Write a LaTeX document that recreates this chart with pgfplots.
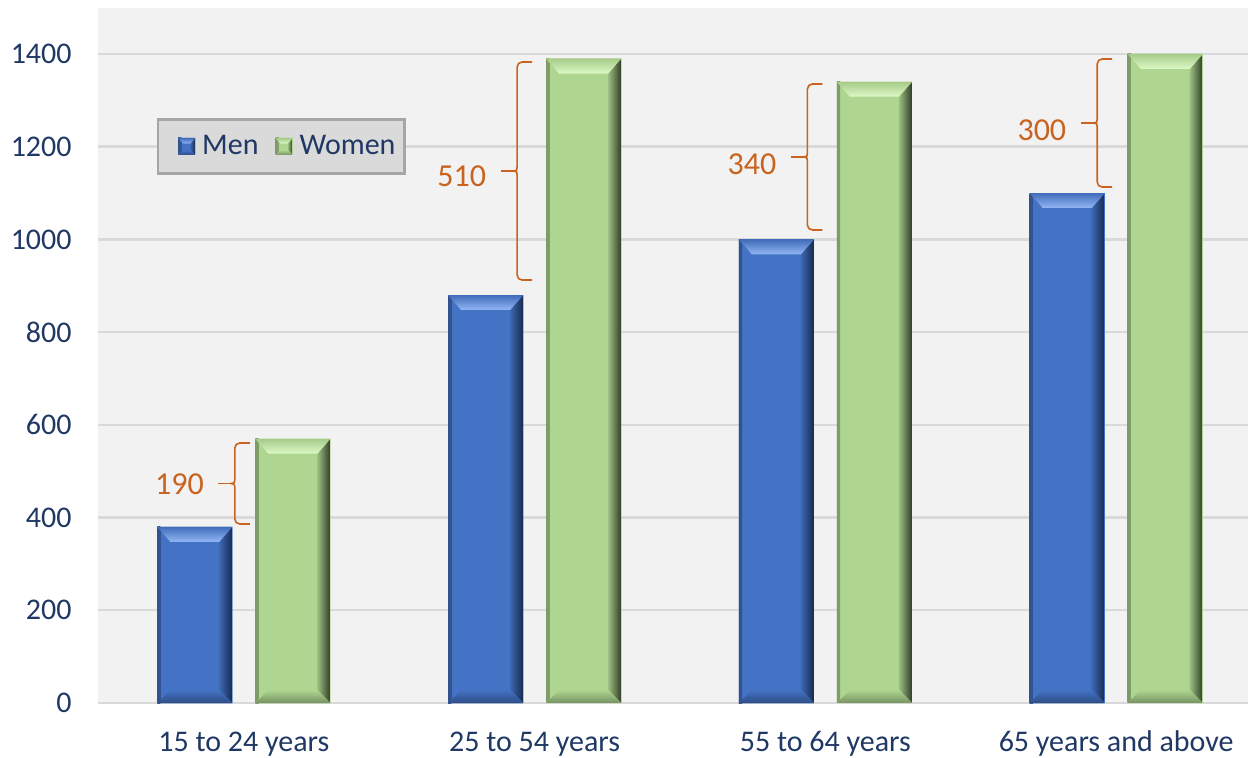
\documentclass[border=0pt]{standalone}
\usepackage{pgfplots}
\pgfplotsset{compat=1.18}
\usepackage{pgfplotstable}
\usepackage{fontspec}
\setmainfont{Carlito}
\usetikzlibrary{calc}

\definecolor{menC}{HTML}{4472C4}
\definecolor{menTop}{HTML}{93B6F4}
\definecolor{menDark}{HTML}{172A4E}
\definecolor{womenC}{HTML}{AED690}
\definecolor{womenTop}{HTML}{DDF9C6}
\definecolor{womenDark}{HTML}{323D28}
\definecolor{plotbg}{HTML}{F2F2F2}
\definecolor{gridc}{HTML}{D9D9D9}
\definecolor{labelc}{HTML}{203864}
\definecolor{gapc}{HTML}{C9631F}
\definecolor{legbg}{HTML}{DADADA}
\definecolor{legframe}{HTML}{A6A6A6}

% employed persons by age group (thousands)
\pgfplotstableread{
cat men women
0   380  570
1   880  1390
2   1000 1340
3   1100 1400
}\agedata

\tikzset{
  % bevelled box: main colour, highlight, shadow, bevel size
  bevel/.style n args={4}{fill=#1, draw=none,
    path picture={
      % left edge
      \fill[path picture={}, left color=#1!72!black, right color=#1]
        (path picture bounding box.south west)
        rectangle ([xshift=1.6pt]path picture bounding box.north west);
      % right face
      \fill[path picture={}, left color=#1!85!#3, middle color=#1!40!#3, right color=#3]
        (path picture bounding box.north east) -- (path picture bounding box.south east)
        -- ([xshift=-#4, yshift=#4]path picture bounding box.south east)
        -- ([xshift=-#4, yshift=-1.15*#4]path picture bounding box.north east) -- cycle;
      % bottom face
      \fill[path picture={}, top color=#1, bottom color=#1!68!black]
        (path picture bounding box.south west) -- (path picture bounding box.south east)
        -- ([xshift=-#4, yshift=#4]path picture bounding box.south east)
        -- ([xshift=#4, yshift=#4]path picture bounding box.south west) -- cycle;
      % top face
      \fill[path picture={}, top color=#1!95!black, bottom color=#2]
        (path picture bounding box.north west) -- (path picture bounding box.north east)
        -- ([xshift=-#4, yshift=-1.15*#4]path picture bounding box.north east)
        -- ([xshift=#4, yshift=-1.15*#4]path picture bounding box.north west) -- cycle;
    }},
  % one bevelled box laid over each bar, as tall as the bar
  barbox/.style n args={3}{bevel={#1}{#2}{#3}{6.5pt},
    minimum width=37.5pt, minimum height=0.2318pt*\rawy,
    inner sep=0pt, outer sep=0pt, anchor=south, yshift=-0.2318pt*\rawy},
}

% brace between two bar tops: category, low, high, x offset, low inset, high inset, label, label yshift
\newcommand\gapbrace[8]{%
  \coordinate (lo) at ([xshift=#4, yshift=#5]axis cs:#1,#2);
  \coordinate (hi) at ([xshift=#4, yshift=-#6]axis cs:#1,#3);
  \coordinate (md) at ($(lo)!0.5!(hi)$);
  \draw[gapc, line width=0.8pt]
    ([xshift=7.5pt]lo) -- ([xshift=2.5pt]lo) arc[start angle=270, end angle=180, radius=2.5pt]
    -- ([yshift=-2pt]md) .. controls ([yshift=-0.4pt]md) .. ([xshift=-1.8pt]md)
    .. controls ([yshift=0.4pt]md) .. ([yshift=2pt]md)
    -- ([yshift=-2.5pt]hi) arc[start angle=180, end angle=90, radius=2.5pt] -- ([xshift=7.5pt]hi);
  \draw[gapc, line width=0.8pt] ([xshift=-1.8pt]md) -- ([xshift=-8.3pt]md);
  \node[anchor=east, inner sep=0pt, text=gapc, font=\fontsize{16}{19}\selectfont]
    at ([xshift=-15.3pt, yshift=#8]md) {#7};
}

\begin{document}
\begin{tikzpicture}
\path[use as bounding box] (-49.2pt,-27pt) rectangle (574.8pt,351.5pt);
\begin{axis}[
  at={(0,0)}, anchor=south west,
  scale only axis,
  x=145.4pt, y=0.2318pt,
  xmin=-0.5, xmax=3.454, ymin=0, ymax=1500,
  enlargelimits=false,
  ybar, bar width=37.5pt,
  axis background/.style={fill=plotbg},
  axis line style={draw=none},
  tick style={draw=none},
  ymajorgrids,
  grid style={gridc, line width=1.2pt},
  xtick={0,1,2,3},
  xticklabels={15 to 24 years, 25 to 54 years, 55 to 64 years, 65 years and above},
  ytick={0,200,...,1400},
  /pgf/number format/assume math mode=true,
  /pgf/number format/1000 sep={},
  tick label style={font=\fontsize{15}{18}\selectfont, text=labelc},
  xticklabel style={anchor=base, yshift=-20pt},
  yticklabel style={anchor=east, inner sep=0pt, xshift=-13.2pt},
  legend columns=2,
  legend style={at={(0.051,0.841)}, anchor=north west,
    fill=legbg, draw=legframe, line width=1.2pt,
    font=\fontsize{15}{18}\selectfont, text=labelc,
    inner xsep=1pt, inner ysep=6pt,
    nodes={inner xsep=3.5pt},
    /tikz/every even column/.append style={column sep=0.5pt}},
]
\addplot[bar shift=-24.5pt, fill=menC, draw=none,
  visualization depends on=rawy \as \rawy,
  nodes near coords={\relax},
  every node near coord/.append style={barbox={menC}{menTop}{menDark}},
  legend image code/.code={\path (-9pt,0);
    \path[bevel={menC}{menTop}{menDark}{2.5pt}] (0pt,-4.25pt) rectangle (8.5pt,4.25pt);}]
  table[x=cat, y=men] {\agedata};
\addlegendentry{Men}
\addplot[bar shift=24.5pt, fill=womenC, draw=none,
  visualization depends on=rawy \as \rawy,
  nodes near coords={\relax},
  every node near coord/.append style={barbox={womenC}{womenTop}{womenDark}},
  legend image code/.code={\path (-4.5pt,0);
    \path[bevel={womenC}{womenTop}{womenDark}{2.5pt}] (0pt,-4.25pt) rectangle (8.5pt,4.25pt);}]
  table[x=cat, y=women] {\agedata};
\addlegendentry{Women}

\gapbrace{0}{380}{570}{-4.5pt}{1.4pt}{2.1pt}{190}{-0.5pt}
\gapbrace{1}{880}{1390}{-8.75pt}{7.5pt}{1.7pt}{510}{-2.5pt}
\gapbrace{2}{1000}{1340}{-9pt}{4.7pt}{1.1pt}{340}{-3.5pt}
\gapbrace{3}{1100}{1400}{-9.5pt}{3pt}{2.5pt}{300}{-3.5pt}
\end{axis}
\end{tikzpicture}
\end{document}
